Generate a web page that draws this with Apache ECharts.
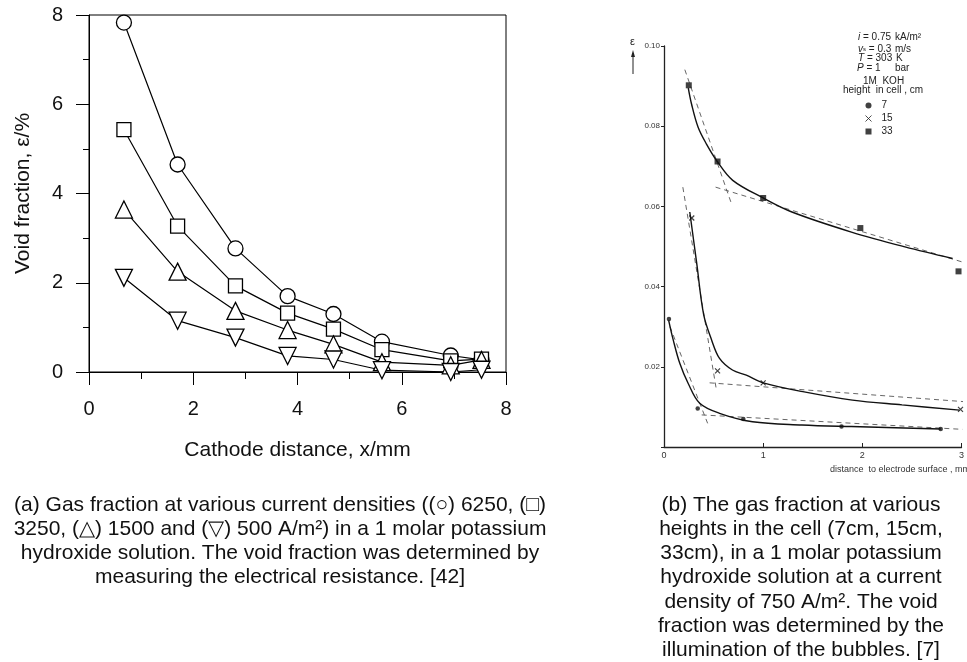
<!DOCTYPE html>
<html>
<head>
<meta charset="utf-8">
<script src="https://cdn.jsdelivr.net/npm/echarts@6/dist/echarts.min.js"></script>
<style>
html,body{margin:0;padding:0;background:#fff;}
#c{width:967px;height:662px;}
</style>
</head>
<body>
<div id="c"></div>
<script>
// ---------- Panel (a): void fraction vs cathode distance ----------
const aX = [0.67, 1.70, 2.81, 3.81, 4.69, 5.62, 6.94, 7.53];
const a6250 = [7.83, 4.65, 2.77, 1.70, 1.30, 0.68, 0.37, 0.27];
const a3250 = [5.43, 3.27, 1.93, 1.32, 0.96, 0.50, 0.25, 0.29];
const a1500 = [3.64, 2.25, 1.37, 0.94, 0.62, 0.22, 0.15, 0.27];
const a500  = [2.11, 1.15, 0.77, 0.36, 0.28, 0.04, 0.00, 0.05];
const aTicksX = [0, 2, 4, 6, 8];
const aTicksY = [0, 2, 4, 6, 8];

// ---------- Panel (b): gas fraction vs distance to electrode ----------
const b33X = [0.25, 0.54, 1.00, 1.98, 2.97];
const b33Y = [0.0902, 0.0712, 0.0621, 0.0546, 0.0438];
const b15X = [0.28, 0.54, 1.00, 2.99];
const b15Y = [0.0571, 0.0190, 0.0160, 0.0094];
const b7X  = [0.05, 0.34, 0.80, 1.79, 2.79];
const b7Y  = [0.0319, 0.0096, 0.0070, 0.0051, 0.0045];

// fitted (solid) curves
const fit33X = [0.245, 0.277, 0.343, 0.427, 0.537, 0.693, 1.0, 1.29, 1.89, 2.43, 2.91];
const fit33Y = [0.0895, 0.0856, 0.0798, 0.0756, 0.0712, 0.0665, 0.0621, 0.0586, 0.0536, 0.0499, 0.0470];
const fit15X = [0.26, 0.33, 0.40, 0.48, 0.56, 0.69, 0.83, 1.0, 1.4, 1.9, 2.4, 2.98];
const fit15Y = [0.0586, 0.0458, 0.0330, 0.0267, 0.0221, 0.0192, 0.0179, 0.0160, 0.0138, 0.0117, 0.0105, 0.0092];
const fit7X  = [0.047, 0.093, 0.16, 0.243, 0.36, 0.56, 0.893, 1.39, 1.89, 2.79];
const fit7Y  = [0.0316, 0.0267, 0.0208, 0.0159, 0.0109, 0.0084, 0.0063, 0.0055, 0.0051, 0.0045];

// dashed asymptote lines
const d33aX = [0.21, 0.68], d33aY = [0.0941, 0.0607];
const d33bX = [0.52, 3.00], d33bY = [0.0648, 0.0462];
const d15aX = [0.19, 0.53], d15aY = [0.0648, 0.0140];
const d15bX = [0.46, 3.03], d15bY = [0.0160, 0.0113];
const d7aX  = [0.06, 0.44], d7aY  = [0.0300, 0.0059];
const d7bX  = [0.38, 3.01], d7bY  = [0.0080, 0.0044];

const bTicksY = [0.02, 0.04, 0.06, 0.08, 0.10];

const zip = (xs, ys) => xs.map((x, i) => [x, ys[i]]);

const chart = echarts.init(document.getElementById('c'), null, {renderer: 'canvas', width: 967, height: 662});

const FA = 'Liberation Sans, Arial, sans-serif';
const FB = 'Liberation Sans Narrow, Liberation Sans, sans-serif';

function aSeries(name, ys, symbol, size, rotate) {
  return {
    name: name, type: 'line', xAxisIndex: 0, yAxisIndex: 0,
    data: zip(aX, ys), symbol: symbol, symbolSize: size, symbolRotate: rotate || 0,
    showAllSymbol: true,
    lineStyle: {color: '#000', width: 1.2},
    itemStyle: {color: '#fff', borderColor: '#000', borderWidth: 1.3},
    emphasis: {disabled: true}, animation: false, z: 3
  };
}
function bCurve(xs, ys) {
  return {
    type: 'line', xAxisIndex: 1, yAxisIndex: 1, data: zip(xs, ys), smooth: 0.35,
    symbol: 'none', lineStyle: {color: '#111', width: 1.4}, clip: false,
    emphasis: {disabled: true}, animation: false, z: 3
  };
}
function bDash(xs, ys) {
  return {
    type: 'line', xAxisIndex: 1, yAxisIndex: 1, data: zip(xs, ys),
    symbol: 'none', lineStyle: {color: '#555', width: 0.9, type: [5, 4]}, clip: false,
    emphasis: {disabled: true}, animation: false, z: 2
  };
}

const crossPath = 'path://M0,0L10,10M10,0L0,10';

function small(text, x, y, extra) {
  return Object.assign({type: 'text', x: x, y: y, style: {
    text: text, font: '10px ' + FB, fill: '#222', textVerticalAlign: 'middle',
    rich: {
      i: {fontStyle: 'italic', fontSize: 10, fontFamily: FB},
      s: {fontSize: 6, fontFamily: FB}
    }
  }}, extra || {});
}

const option = {
  backgroundColor: '#fff',
  animation: false,
  grid: [
    {left: 89, top: 15, width: 417, height: 357, show: true, borderColor: '#000', borderWidth: 1, backgroundColor: 'transparent'},
    {left: 664, top: 46, width: 299, height: 401}
  ],
  xAxis: [
    {
      gridIndex: 0, type: 'value', min: aTicksX[0], max: aTicksX[aTicksX.length - 1], interval: 2,
      name: 'Cathode distance, x/mm', nameLocation: 'middle', nameGap: 68,
      nameTextStyle: {fontFamily: FA, fontSize: 21, color: '#111'},
      axisLine: {show: true, onZero: false, lineStyle: {color: '#000', width: 1}},
      axisTick: {show: true, inside: false, length: 13, lineStyle: {color: '#000'}},
      minorTick: {show: true, splitNumber: 2, length: 7, lineStyle: {color: '#000'}},
      axisLabel: {fontFamily: FA, fontSize: 20, color: '#111', margin: 27},
      splitLine: {show: false}
    },
    {
      gridIndex: 1, type: 'value', min: 0, max: 3, interval: 1,
      axisLine: {show: true, onZero: false, lineStyle: {color: '#222', width: 1.3}},
      axisTick: {show: true, inside: true, length: 4, lineStyle: {color: '#222'}},
      axisLabel: {fontFamily: FB, fontSize: 9, color: '#333', margin: 4},
      splitLine: {show: false}
    }
  ],
  yAxis: [
    {
      gridIndex: 0, type: 'value', min: aTicksY[0], max: aTicksY[aTicksY.length - 1], interval: 2,
      name: 'Void fraction, \u03b5/%', nameLocation: 'middle', nameGap: 55,
      nameTextStyle: {fontFamily: FA, fontSize: 21, color: '#111'},
      axisLine: {show: true, onZero: false, lineStyle: {color: '#000', width: 1}},
      axisTick: {show: true, inside: false, length: 13, lineStyle: {color: '#000'}},
      minorTick: {show: true, splitNumber: 2, length: 6, lineStyle: {color: '#000'}},
      axisLabel: {fontFamily: FA, fontSize: 20, color: '#111', margin: 26},
      splitLine: {show: false}
    },
    {
      gridIndex: 1, type: 'value', min: 0, max: bTicksY[bTicksY.length - 1], interval: 0.02,
      axisLine: {show: true, onZero: false, lineStyle: {color: '#222', width: 1.3}},
      axisTick: {show: true, inside: false, length: 3, lineStyle: {color: '#222'}},
      axisLabel: {fontFamily: FB, fontSize: 8, color: '#333', margin: 4,
        formatter: v => (v === 0 ? '' : v.toFixed(2))},
      splitLine: {show: false}
    }
  ],
  legend: {
    show: true, orient: 'vertical', left: 865, top: 100, itemWidth: 6, itemHeight: 6, itemGap: 2,
    padding: 0,
    textStyle: {fontFamily: FB, fontSize: 10, color: '#222', lineHeight: 11, padding: [0, 0, 0, 5]},
    selectedMode: false,
    data: [
      {name: '7', icon: 'circle'},
      {name: '15', icon: crossPath, itemStyle: {color: 'transparent', borderColor: '#222', borderWidth: 1}},
      {name: '33', icon: 'rect'}
    ]
  },
  series: [
    aSeries('6250 A/m\u00b2', a6250, 'circle', 15),
    aSeries('3250 A/m\u00b2', a3250, 'rect', 14),
    aSeries('1500 A/m\u00b2', a1500, 'triangle', 17),
    aSeries('500 A/m\u00b2', a500, 'triangle', 17, 180),
    bDash(d33aX, d33aY), bDash(d33bX, d33bY),
    bDash(d15aX, d15aY), bDash(d15bX, d15bY),
    bDash(d7aX, d7aY), bDash(d7bX, d7bY),
    bCurve(fit33X, fit33Y), bCurve(fit15X, fit15Y), bCurve(fit7X, fit7Y),
    {name: '33', type: 'scatter', xAxisIndex: 1, yAxisIndex: 1, data: zip(b33X, b33Y), symbol: 'rect', symbolSize: 6,
      itemStyle: {color: '#111'}, clip: false, z: 4},
    {name: '15', type: 'scatter', xAxisIndex: 1, yAxisIndex: 1, data: zip(b15X, b15Y), symbol: crossPath, symbolSize: 5,
      itemStyle: {color: 'transparent', borderColor: '#111', borderWidth: 1.2}, clip: false, z: 4},
    {name: '7', type: 'scatter', xAxisIndex: 1, yAxisIndex: 1, data: zip(b7X, b7Y), symbol: 'circle', symbolSize: 4.5,
      itemStyle: {color: '#111'}, clip: false, z: 4}
  ],
  graphic: [
    // panel b annotation block
    small('{i|i} = 0.75', 858, 37), small('kA/m\u00b2', 895, 37),
    small('{i|v}{s|s} = 0.3', 858, 49), small('m/s', 895, 49),
    small('{i|T} = 303', 858, 58), small('K', 896, 58),
    small('{i|P} = 1', 857, 68), small('bar', 895, 68),
    small('1M  KOH', 863, 81),
    small('height  in cell , cm', 843, 90),
    // epsilon label with arrow for panel b
    {type: 'text', x: 630, y: 36, style: {text: '\u03b5', font: '11px ' + FB, fill: '#222'}},
    {type: 'line', shape: {x1: 633, y1: 74, x2: 633, y2: 53}, style: {stroke: '#222', lineWidth: 1}},
    {type: 'polygon', shape: {points: [[633, 50], [631, 57], [635, 57]]}, style: {fill: '#222'}},
    // panel b x-axis title
    {type: 'text', x: 970, y: 470, style: {text: 'distance  to electrode surface , mm', font: '9px ' + FB, fill: '#333', textAlign: 'right', textVerticalAlign: 'middle'}},
    // captions
    {type: 'text', x: 280, y: 493, style: {
      text: '(a) Gas fraction at various current densities ((\u25cb) 6250, (\u25a1)\n3250, (\u25b3) 1500 and (\u25bd) 500 A/m\u00b2) in a 1 molar potassium\nhydroxide solution. The void fraction was determined by\nmeasuring the electrical resistance. [42]',
      font: '21px ' + FA, fill: '#111', textAlign: 'center', textVerticalAlign: 'top', lineHeight: 24}},
    {type: 'text', x: 801, y: 493, style: {
      text: '(b) The gas fraction at various\nheights in the cell (7cm, 15cm,\n33cm), in a 1 molar potassium\nhydroxide solution at a current\ndensity of 750 A/m\u00b2. The void\nfraction was determined by the\nillumination of the bubbles. [7]',
      font: '21px ' + FA, fill: '#111', textAlign: 'center', textVerticalAlign: 'top', lineHeight: 24.2}}
  ]
};
chart.setOption(option);
</script>
</body>
</html>
